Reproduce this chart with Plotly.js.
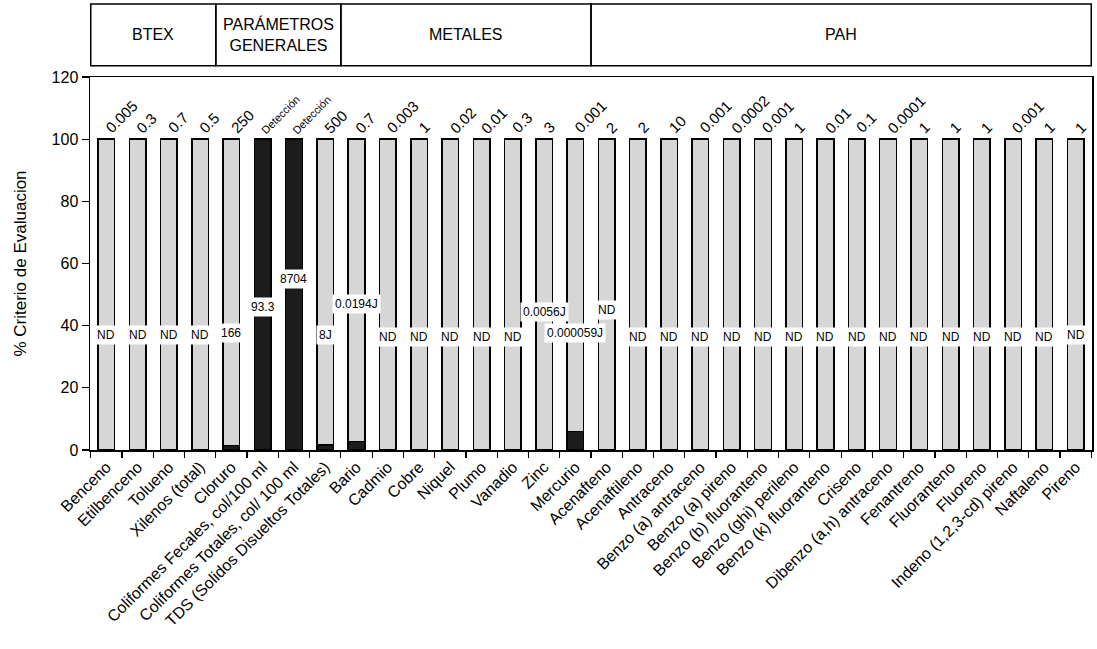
<!DOCTYPE html>
<html>
<head>
<meta charset="utf-8">
<script src="https://cdn.plot.ly/plotly-3.0.1.min.js"></script>
<style>
html,body{margin:0;padding:0;background:#fff;}
#chart{width:1097px;height:649px;}
</style>
</head>
<body>
<div id="chart"></div>
<script>
const categories = [
  'Benceno','Etilbenceno','Tolueno','Xilenos (total)','Cloruro',
  'Coliformes Fecales, col/100 ml','Coliformes Totales, col/ 100 ml','TDS (Solidos Disueltos Totales)',
  'Bario','Cadmio','Cobre','Niquel','Plumo','Vanadio','Zinc','Mercurio',
  'Acenafteno','Acenaftileno','Antraceno','Benzo (a) antraceno','Benzo (a) pireno',
  'Benzo (b) fluoranteno','Benzo (ghi) perileno','Benzo (k) fluoranteno','Criseno',
  'Dibenzo (a,h) antraceno','Fenantreno','Fluoranteno','Fluoreno',
  'Indeno (1,2,3-cd) pireno','Naftaleno','Pireno'
];
// % of evaluation criterion reached (dark segment)
const detectedPct = [0,0,0,0,1.5,100,100,1.6,2.8,0,0,0,0,0,0.2,5.9,
  0,0,0,0,0,0,0,0,0,0,0,0,0,0,0,0];
// remainder up to 100 % (light segment)
const remainingPct = [100,100,100,100,98.5,0,0,98.4,97.2,100,100,100,100,100,99.8,94.1,
  100,100,100,100,100,100,100,100,100,100,100,100,100,100,100,100];
// evaluation criterion labels (top of bars)
const criterionLabels = ['0.005','0.3','0.7','0.5','250','Detección','Detección','500',
  '0.7','0.003','1','0.02','0.01','0.3','3','0.001',
  '2','2','10','0.001','0.0002','0.001','1','0.01','0.1','0.0001','1','1','1','0.001','1','1'];
// measured result labels (inside bars)
const resultLabels = ['ND','ND','ND','ND','166','93.3','8704','8J',
  '0.0194J','ND','ND','ND','ND','ND','0.0056J','0.000059J',
  'ND','ND','ND','ND','ND','ND','ND','ND','ND','ND','ND','ND','ND','ND','ND','ND'];
const resultLabelY = [37,37,37,37,37.5,46,55,37,47,36.5,36.5,36.5,36.5,36.5,44.5,37.5,
  45,36.5,36.5,36.5,36.5,36.5,36.5,36.5,36.5,36.5,36.5,36.5,36.5,36.5,36.5,37];
// group headers
const groupNames = ['BTEX','PARÁMETROS<br>GENERALES','METALES','PAH'];
const groupStart = [0,4,8,16];
const groupEnd = [3,7,15,31];

const FONT = 'Liberation Sans, Arial, sans-serif';
const BAR_TOP = 100;

const traces = [
  {type:'bar', x:categories, y:detectedPct, width:0.53,
   marker:{color:'#1c1c1c', line:{color:'#000', width:1.5}}, hoverinfo:'skip'},
  {type:'bar', x:categories, y:remainingPct, width:0.53,
   marker:{color:'#d6d6d6', line:{color:'#000', width:1.5}}, hoverinfo:'skip'}
];

const annotations = [];
const shapes = [];
categories.forEach((c,i)=>{
  annotations.push({x:i, y:BAR_TOP, xref:'x', yref:'y', text:criterionLabels[i],
    showarrow:false, textangle:-45, xanchor:'left', yanchor:'bottom', xshift:-7, yshift:0,
    font:{family:FONT, size:criterionLabels[i]==='Detección'?11:15, color:'#000'}});
  annotations.push({x:i, y:resultLabelY[i], xref:'x', yref:'y', text:resultLabels[i],
    showarrow:false, bgcolor:'#fff', borderpad:2,
    font:{family:FONT, size:12, color:'#000'}});
});
groupNames.forEach((g,i)=>{
  shapes.push({type:'rect', xref:'x', yref:'paper', x0:groupStart[i]-0.5, x1:groupEnd[i]+0.5,
    y0:1.03, y1:1.196, line:{color:'#000', width:1.5}, fillcolor:'rgba(0,0,0,0)'});
  annotations.push({x:(groupStart[i]+groupEnd[i])/2, y:1.113, xref:'x', yref:'paper',
    xanchor:'center', yanchor:'middle',
    text:g, showarrow:false, font:{family:FONT, size:16, color:'#000'}});
});

const layout = {
  width:1097, height:649,
  margin:{l:90, r:5, t:77, b:199},
  paper_bgcolor:'#fff', plot_bgcolor:'#fff',
  barmode:'stack', showlegend:false,
  font:{family:FONT, color:'#000'},
  xaxis:{type:'category', showline:true, linecolor:'#000', linewidth:1.5, mirror:true,
    ticks:'outside', tickson:'boundaries', ticklen:6, tickcolor:'#000', tickwidth:1.2,
    tickangle:-45, tickfont:{family:FONT, size:16, color:'#000'}, showgrid:false},
  yaxis:{range:[0,120], dtick:20, showline:true, linecolor:'#000', linewidth:1.5, mirror:true,
    ticks:'outside', ticklen:7, tickcolor:'#000', tickwidth:1.2, showgrid:false, zeroline:false,
    tickfont:{family:FONT, size:16, color:'#000'},
    title:{text:'% Criterio de Evaluacion', font:{family:FONT, size:17, color:'#000'}, standoff:20}},
  annotations:annotations,
  shapes:shapes
};

Plotly.newPlot('chart', traces, layout, {displayModeBar:false, staticPlot:true});
</script>
</body>
</html>
